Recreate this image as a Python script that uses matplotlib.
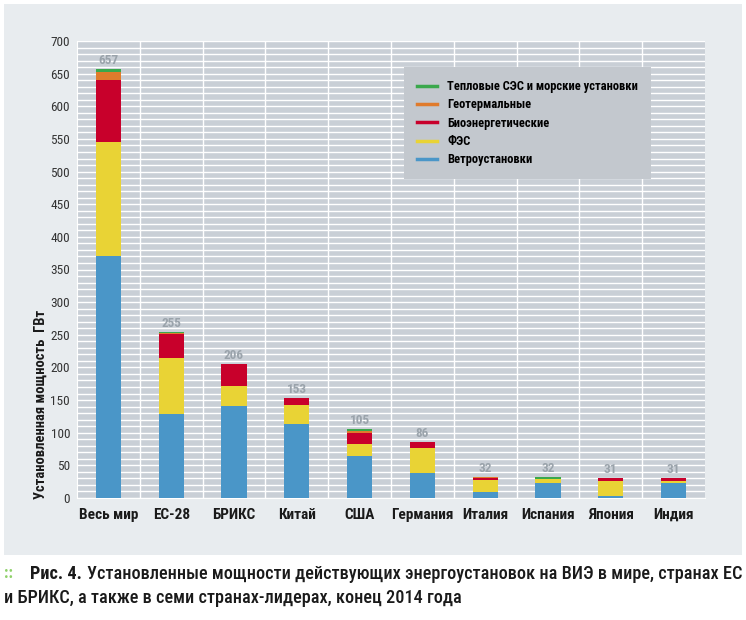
import numpy as np
import matplotlib
matplotlib.use('Agg')
import matplotlib.pyplot as plt
from matplotlib.patches import Rectangle
from matplotlib.lines import Line2D

plt.rcParams['font.family'] = ['Roboto Condensed', 'Roboto', 'DejaVu Sans']

# данные, ГВт
regions = ['Весь мир', 'ЕС-28', 'БРИКС', 'Китай', 'США', 'Германия', 'Италия', 'Испания', 'Япония', 'Индия']
wind = [370, 129, 141, 114, 65, 39, 8.7, 23, 2.8, 22.5]
pv = [175, 86, 31, 28, 18, 38, 18.5, 5.4, 23.3, 3.2]
bio = [95, 36, 33, 11, 16, 9, 4, 1, 4.4, 5.3]
geo = [12, 1, 0.5, 0, 3.5, 0, 0.9, 0, 0.5, 0]
csp = [5, 3, 0.5, 0, 2.5, 0, 0, 2.6, 0, 0]
totals = ['657', '255', '206', '153', '105', '86', '32', '32', '31', '31']

series = [
    ('Ветроустановки', wind, '#4a96c8'),
    ('ФЭС', pv, '#e9d335'),
    ('Биоэнергетические', bio, '#c8002b'),
    ('Геотермальные', geo, '#e07b2c'),
    ('Тепловые СЭС и морские установки', csp, '#3aa84c'),
]

W, H = 746, 620
fig = plt.figure(figsize=(W / 100, H / 100), dpi=100, facecolor='white')
fig.patches.append(Rectangle((4 / W, 1 - 555 / H), 738 / W, 551 / H, transform=fig.transFigure,
                             facecolor='#e8ecef', edgecolor='none', zorder=-10))

ax = fig.add_axes((77 / W, 1 - 498 / H, 628 / W, 457 / H))
ax.set_facecolor('#c9cfd6')
x = np.arange(len(regions))
bottom = np.zeros(len(regions))
for name, vals, col in series:
    ax.bar(x, vals, width=0.4, bottom=bottom, color=col, zorder=3)
    bottom += np.array(vals)

for xi, b, t in zip(x, bottom, totals):
    ax.text(xi, b + 3, t, ha='center', va='bottom', fontsize=9.5, fontweight='bold', color='#9aa3ab', zorder=4)

ax.set_xlim(-0.5, len(regions) - 0.5)
ax.set_ylim(0, 700)
ax.set_yticks(np.arange(0, 701, 50))
ax.set_yticks(np.arange(0, 701, 10), minor=True)
ax.set_xticks(x)
ax.set_xticklabels(regions, fontsize=11, fontweight='bold', color='#1a1a1a', va='baseline')
ax.tick_params(axis='y', labelsize=9.5, colors='#333333', length=0, which='both', pad=5)
ax.tick_params(axis='x', length=0, pad=15)
ax.grid(axis='y', which='both', color='white', linewidth=1, zorder=1)
for xb in np.arange(0.5, len(regions) - 0.5, 1):
    ax.axvline(xb, color='white', linewidth=1, zorder=1)
for s in ax.spines.values():
    s.set_visible(False)
ax.spines['left'].set_visible(True)
ax.spines['left'].set_color('white')
ax.spines['bottom'].set_visible(True)
ax.spines['bottom'].set_color('white')

handles = [Line2D([0], [0], color=c, lw=2.5) for n, v, c in series[::-1]]
labels = [n for n, v, c in series[::-1]]
leg = ax.legend(handles, labels, loc='upper left', bbox_to_anchor=(327 / 628, 1 - 26 / 457),
                frameon=True, handlelength=1.6, handletextpad=0.8, labelspacing=0.42,
                borderpad=1.05, borderaxespad=0, fancybox=False, prop={'weight': 'bold', 'size': 9})
leg.get_frame().set_facecolor('#c3c8ce')
leg.get_frame().set_edgecolor('none')
leg.get_frame().set_alpha(1)
leg.set_zorder(5)

fig.text(41 / W, 1 - 499 / H, 'Установленная мощность  ГВт', rotation=90, ha='center', va='bottom',
         fontsize=10.5, fontweight='bold', color='#1a1a1a')

# подпись к рисунку, подогнанная по ширине
fig.text(4 / W, 1 - 574 / H, '::', fontsize=12, fontweight='bold', color='#8fd16a', va='center')
t_bold = fig.text(30 / W, 1 - 574 / H, 'Рис. 4.', fontsize=11.5, fontweight='bold', color='#1a1a1a', va='center')
t1 = fig.text(0, 1 - 574 / H, 'Установленные мощности действующих энергоустановок на ВИЭ в мире, странах ЕС',
              fontsize=11.5, fontweight='medium', color='#1a1a1a', va='center')
t2 = fig.text(4 / W, 1 - 598 / H, 'и БРИКС, а также в семи странах-лидерах, конец 2014 года',
              fontsize=11.5, fontweight='medium', color='#1a1a1a', va='center')
r = fig.canvas.get_renderer()
bb = t_bold.get_window_extent(r)
t1.set_x((bb.x1 + 5) / W)
w1 = t1.get_window_extent(r).width
scale = (737 - bb.x1 - 5) / w1
for t in (t_bold, t1, t2):
    t.set_fontsize(11.5 * scale)
bb = t_bold.get_window_extent(r)
t1.set_x((bb.x1 + 5) / W)

fig.savefig('out.png', dpi=100, facecolor=fig.get_facecolor())
